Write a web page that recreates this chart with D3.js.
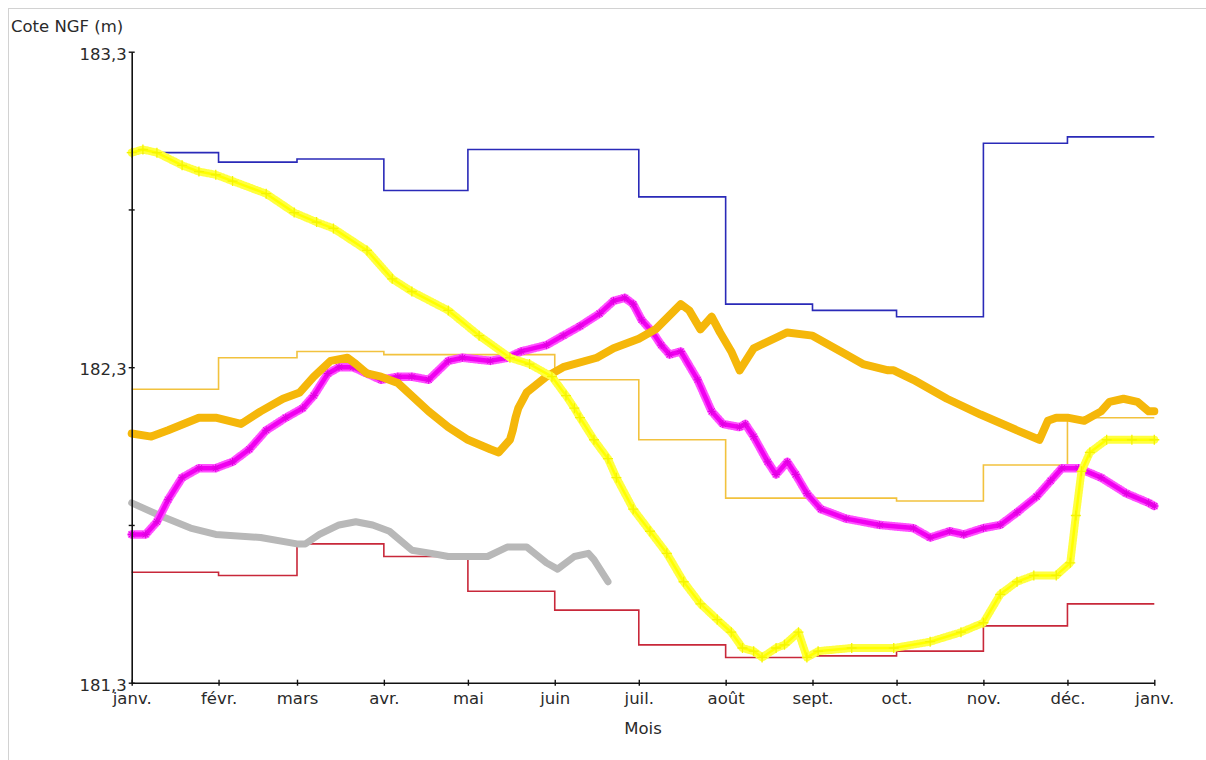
<!DOCTYPE html>
<html>
<head>
<meta charset="utf-8">
<title>Cote NGF</title>
<script src="https://cdn.jsdelivr.net/npm/d3@7"></script>
<style>
body {
	margin: 0;
	background: #fff;
}
text {
	font-family: "DejaVu Sans", sans-serif;
	font-size: 16.5px;
	fill: #2a2a2a;
}
.pas {
	fill: none;
	stroke-width: 1.6px;
}
.courbe {
	fill: none;
	stroke-linejoin: round;
	stroke-linecap: round;
}
</style>
</head>
<body>
<div id="chart"></div>
<script>
// mois et valeurs mensuelles (courbes en escalier)
var mois = ["janv.", "févr.", "mars", "avr.", "mai", "juin", "juil.", "août", "sept.", "oct.", "nov.", "déc.", "janv."];
var coteHaute = [182.98, 182.95, 182.96, 182.86, 182.99, 182.99, 182.84, 182.50, 182.48, 182.46, 183.01, 183.03];
var coteBasse = [181.65, 181.64, 181.74, 181.70, 181.59, 181.53, 181.42, 181.38, 181.385, 181.40, 181.48, 181.55];
var coteMoyenne = [182.23, 182.33, 182.35, 182.34, 182.34, 182.26, 182.07, 181.885, 181.885, 181.876, 181.99, 182.14];

// courbes journalieres (jour de l'annee, cote)
var jourGris = [0, 10, 21, 30, 46, 59, 62, 67, 74, 80, 86, 92, 100, 107, 113, 121, 127, 134, 141, 148, 152, 158, 163, 165, 170];
var coteGris = [181.87, 181.83, 181.79, 181.77, 181.76, 181.74, 181.74, 181.77, 181.80, 181.81, 181.80, 181.78, 181.72, 181.71, 181.70, 181.70, 181.70, 181.73, 181.73, 181.68, 181.66, 181.70, 181.71, 181.69, 181.62];

var jourMagenta = [0, 5, 9, 13, 18, 24, 30, 36, 42, 48, 55, 61, 65, 70, 74, 79, 84, 89, 95, 100, 106, 113, 118, 128, 134, 139, 148, 154, 160, 167, 172, 176, 179, 182, 186, 189, 192, 196, 202, 207, 211, 217, 219, 222, 227, 230, 234, 237, 241, 246, 255, 267, 279, 285, 292, 297, 304, 310, 316, 323, 328, 332, 338, 346, 355, 363, 365];
var coteMagenta = [181.77, 181.77, 181.81, 181.88, 181.95, 181.98, 181.98, 182.00, 182.04, 182.10, 182.14, 182.17, 182.21, 182.28, 182.30, 182.30, 182.28, 182.26, 182.27, 182.27, 182.26, 182.32, 182.33, 182.32, 182.33, 182.35, 182.37, 182.40, 182.43, 182.47, 182.51, 182.52, 182.50, 182.45, 182.41, 182.37, 182.34, 182.35, 182.26, 182.16, 182.12, 182.11, 182.12, 182.08, 182.00, 181.96, 182.00, 181.96, 181.90, 181.85, 181.82, 181.80, 181.79, 181.76, 181.78, 181.77, 181.79, 181.80, 181.84, 181.89, 181.94, 181.98, 181.98, 181.95, 181.90, 181.87, 181.86];

var jourOrange = [0, 7, 13, 24, 30, 39, 46, 54, 60, 65, 71, 77, 80, 84, 89, 95, 106, 113, 120, 128, 131, 135, 136, 137, 138, 141, 148, 154, 166, 172, 181, 187, 196, 199, 203, 207, 210, 214, 217, 222, 234, 243, 255, 261, 270, 272, 279, 291, 303, 316, 324, 327, 330, 334, 340, 346, 349, 354, 359, 363, 365];
var coteOrange = [182.09, 182.08, 182.10, 182.14, 182.14, 182.12, 182.16, 182.20, 182.22, 182.27, 182.32, 182.33, 182.31, 182.28, 182.27, 182.25, 182.16, 182.11, 182.07, 182.04, 182.03, 182.07, 182.10, 182.14, 182.17, 182.22, 182.27, 182.30, 182.33, 182.36, 182.39, 182.42, 182.50, 182.48, 182.42, 182.46, 182.41, 182.35, 182.29, 182.36, 182.41, 182.40, 182.34, 182.31, 182.29, 182.29, 182.26, 182.20, 182.15, 182.10, 182.07, 182.13, 182.14, 182.14, 182.13, 182.16, 182.19, 182.20, 182.19, 182.16, 182.16];

var jourJaune = [0, 4, 9, 18, 24, 30, 36, 48, 58, 66, 72, 84, 93, 100, 113, 124, 135, 142, 150, 155, 158, 160, 165, 170, 173, 179, 185, 191, 197, 203, 209, 214, 218, 222, 225, 230, 233, 238, 241, 245, 257, 272, 285, 296, 304, 310, 316, 322, 330, 335, 337, 339, 342, 348, 357, 365];
var coteJaune = [182.98, 182.99, 182.98, 182.94, 182.92, 182.91, 182.89, 182.85, 182.79, 182.76, 182.74, 182.67, 182.58, 182.54, 182.48, 182.40, 182.33, 182.31, 182.27, 182.21, 182.17, 182.14, 182.07, 182.01, 181.95, 181.85, 181.78, 181.71, 181.62, 181.55, 181.50, 181.46, 181.41, 181.40, 181.38, 181.41, 181.42, 181.46, 181.38, 181.40, 181.41, 181.41, 181.43, 181.46, 181.49, 181.58, 181.62, 181.64, 181.64, 181.68, 181.83, 181.97, 182.03, 182.07, 182.07, 182.07];

var graduations = [181.3, 181.8, 182.3, 182.8, 183.3];
var etiquettes = [181.3, 182.3, 183.3];

var width = 1206, height = 760;
var debut = new Date(2023, 0, 1);

function jour(d) {
	return d3.timeDay.offset(debut, d);
}

var svg = d3.select("#chart").append("svg")
	.attr("width", width).attr("height", height);

// cadre
svg.append("rect").attr("x", 8.5).attr("y", 8.5)
	.attr("width", 1210).attr("height", 800)
	.attr("fill", "none").attr("stroke", "#d2d2d2");

var x = d3.scaleTime()
	.domain([debut, new Date(2024, 0, 1)])
	.range([131.7, 1154.3]);
var y = d3.scaleLinear()
	.domain([181.3, 183.3])
	.range([682.7, 51.7]);

var fr = d3.formatLocale({decimal: ",", thousands: " ", grouping: [3], currency: ["", " €"]});
var f1 = fr.format(".1f");

// series en escalier
function escalier(vals) {
	var pts = vals.map(function(v, i) { return [d3.timeMonth.offset(debut, i), v]; });
	pts.push([d3.timeMonth.offset(debut, 12), vals[vals.length - 1]]);
	return pts;
}
var ligneEsc = d3.line()
	.x(function(d) { return x(d[0]); })
	.y(function(d) { return y(d[1]); })
	.curve(d3.curveStepAfter);

svg.append("path").attr("class", "pas").attr("stroke", "#f2c23e")
	.attr("d", ligneEsc(escalier(coteMoyenne)));
svg.append("path").attr("class", "pas").attr("stroke", "#c8283a")
	.attr("d", ligneEsc(escalier(coteBasse)));
svg.append("path").attr("class", "pas").attr("stroke", "#2a2ab8")
	.attr("d", ligneEsc(escalier(coteHaute)));

// courbes journalieres
var ligne = d3.line()
	.x(function(d) { return x(jour(d[0])); })
	.y(function(d) { return y(d[1]); });

function serie(jours, cotes) {
	return jours.map(function(j, i) { return [j, cotes[i]]; });
}

function marqueurs(data, forme, couleur, epais) {
	svg.append("g").selectAll("path").data(data).join("path")
		.attr("transform", function(d) { return "translate(" + x(jour(d[0])) + "," + y(d[1]) + ")"; })
		.attr("d", forme)
		.attr("fill", "none").attr("stroke", couleur).attr("stroke-width", epais);
}

svg.append("path").attr("class", "courbe")
	.attr("stroke", "#b8b8b8").attr("stroke-width", 7)
	.attr("d", ligne(serie(jourGris, coteGris)));

var mag = serie(jourMagenta, coteMagenta);
svg.append("path").attr("class", "courbe")
	.attr("stroke", "#ff50ff").attr("stroke-width", 8.5)
	.attr("stroke-linecap", "butt")
	.attr("stroke-dasharray", "1.2,1.6")
	.attr("d", ligne(mag));
svg.append("path").attr("class", "courbe")
	.attr("stroke", "#f000f0").attr("stroke-width", 4.5)
	.attr("d", ligne(mag));
marqueurs(mag, "M-4,0H4M0,-4V4M-3,-3L3,3M-3,3L3,-3", "#e000e0", 1);

svg.append("path").attr("class", "courbe")
	.attr("stroke", "#f5b70a").attr("stroke-width", 8)
	.attr("d", ligne(serie(jourOrange, coteOrange)));

var jau = serie(jourJaune, coteJaune);
svg.append("path").attr("class", "courbe")
	.attr("stroke", "#ffff40").attr("stroke-width", 8)
	.attr("stroke-linecap", "butt")
	.attr("stroke-dasharray", "1.2,1.8")
	.attr("d", ligne(jau));
svg.append("path").attr("class", "courbe")
	.attr("stroke", "#ffff00").attr("stroke-width", 2.5)
	.attr("d", ligne(jau));
marqueurs(jau, "M-5,0H5M0,-5V5", "#f4f400", 1.3);

// axes
var axeX = svg.append("g")
	.attr("transform", "translate(0," + y(181.3) + ")")
	.call(d3.axisBottom(x)
		.tickValues(d3.range(13).map(function(i) { return d3.timeMonth.offset(debut, i); }))
		.tickFormat(function(d, i) { return mois[i]; })
		.tickSizeOuter(0));
axeX.select(".domain").attr("stroke", "#111").attr("stroke-width", 1.6);
axeX.selectAll(".tick line").attr("y1", -3).attr("y2", 3).attr("stroke", "#111").attr("stroke-width", 1.4);
axeX.selectAll(".tick text").attr("y", 10).attr("dy", "0.71em")
	.style("font-family", "DejaVu Sans").style("font-size", "16.5px").attr("fill", "#2a2a2a");

var axeY = svg.append("g")
	.attr("transform", "translate(" + x(debut) + ",0)")
	.call(d3.axisLeft(y)
		.tickValues(graduations)
		.tickFormat(function(d) { return etiquettes.indexOf(d) >= 0 ? f1(d) : ""; })
		.tickSizeOuter(0));
axeY.select(".domain").attr("stroke", "#111").attr("stroke-width", 1.6);
axeY.selectAll(".tick line").attr("x1", -3).attr("x2", 3).attr("stroke", "#111").attr("stroke-width", 1.4);
axeY.selectAll(".tick text").attr("x", -5).attr("dy", "0.45em")
	.style("font-family", "DejaVu Sans").style("font-size", "16.5px").attr("fill", "#2a2a2a");

svg.append("text").attr("x", 11).attr("y", 32).text("Cote NGF (m)");
svg.append("text").attr("x", 643).attr("y", 734).attr("text-anchor", "middle").text("Mois");
</script>
</body>
</html>
